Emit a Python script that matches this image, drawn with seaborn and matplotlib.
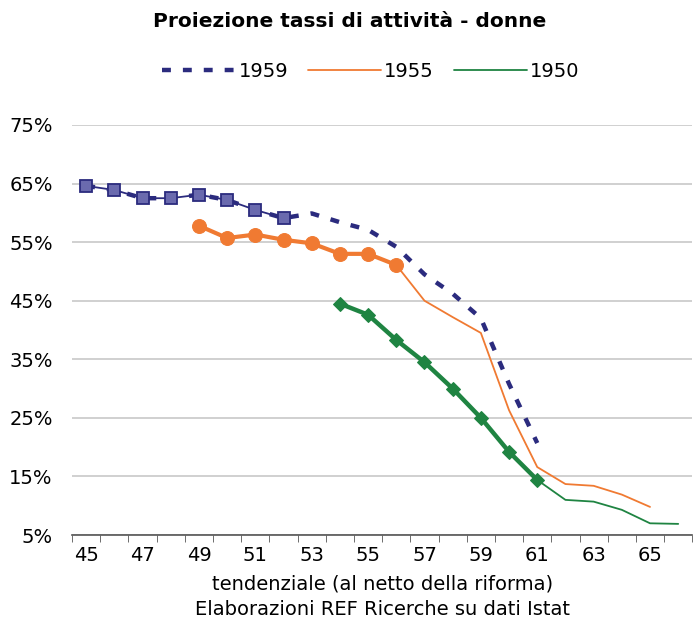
import numpy as np
import matplotlib
matplotlib.use("Agg")
import matplotlib.pyplot as plt
import seaborn as sns
import pandas as pd

# data (age, activity rate %)
ages_1959 = list(range(45, 62))
proj_1959 = [64.6, 63.9, 62.5, 62.5, 63.1, 62.2, 60.5, 59.1, 59.9, 58.4,
             57.1, 54.2, 49.5, 46.2, 42.0, 30.8, 20.7]
obs_ages_1959 = list(range(45, 53))
obs_1959 = proj_1959[:8]

ages_1955 = list(range(56, 66))
proj_1955 = [51.1, 45.0, 42.2, 39.5, 26.3, 16.6, 13.7, 13.4, 11.9, 9.8]
obs_ages_1955 = list(range(49, 57))
obs_1955 = [57.8, 55.7, 56.3, 55.4, 54.8, 53.0, 53.0, 51.1]

ages_1950 = list(range(61, 67))
proj_1950 = [14.4, 11.0, 10.7, 9.3, 7.0, 6.9]
obs_ages_1950 = list(range(54, 62))
obs_1950 = [44.5, 42.6, 38.3, 34.5, 30.0, 25.0, 19.2, 14.4]

navy = "#2b2b7e"
square_face = "#6a6aae"
orange = "#f07a32"
green = "#1f8442"

sns.set_style("white")
plt.rcParams['font.family'] = ['DejaVu Sans']
plt.rcParams['text.color'] = 'black'
plt.rcParams['axes.labelcolor'] = 'black'
plt.rcParams['xtick.color'] = 'black'
plt.rcParams['ytick.color'] = 'black'

fig = plt.figure(figsize=(6.93, 6.24), dpi=100)
ax = fig.add_axes([0.104, 0.1426, 0.895, 0.6571])

# observed (thick / markers)
sns.lineplot(x=obs_ages_1955, y=obs_1955, ax=ax, color=orange, lw=3,
             marker="o", markersize=10, markeredgecolor=orange, zorder=3)
sns.lineplot(x=obs_ages_1950, y=obs_1950, ax=ax, color=green, lw=3.2,
             marker="D", markersize=7, markeredgecolor=green, zorder=3)
sns.lineplot(x=obs_ages_1959, y=obs_1959, ax=ax, color=navy, lw=1.3,
             marker="s", markersize=8, markerfacecolor=square_face,
             markeredgecolor=navy, markeredgewidth=1.3, zorder=4)

# projections (legend series)
sns.lineplot(x=ages_1959, y=proj_1959, ax=ax, color=navy, lw=3.2,
             label="1959", zorder=2)
ax.lines[-1].set_dashes([2.0, 2.7])
sns.lineplot(x=ages_1955, y=proj_1955, ax=ax, color=orange, lw=1.3,
             label="1955", zorder=2)
sns.lineplot(x=ages_1950, y=proj_1950, ax=ax, color=green, lw=1.3,
             label="1950", zorder=2)

fs = 14
ax.set_xlim(44.5, 66.5)
ax.set_ylim(5, 75)
ax.set_yticks(np.arange(5, 76, 10))
ax.set_yticklabels([f"{v}%" for v in range(5, 76, 10)], fontsize=fs)
ax.set_xticks(range(45, 67, 2))
ax.set_xticklabels([str(v) for v in range(45, 67, 2)], fontsize=fs)
ax.set_xticks(np.arange(44.5, 67, 1), minor=True)
ax.tick_params(axis="x", which="major", length=0, pad=8)
ax.tick_params(axis="x", which="minor", length=5, color="#555555",
               direction="out", bottom=True)
ax.tick_params(axis="y", length=0, pad=14)
ax.grid(axis="y", color="#c8c8c8", lw=1.2)
ax.set_axisbelow(True)
for s in ["top", "right", "left"]:
    ax.spines[s].set_visible(False)
ax.spines["bottom"].set_color("#555555")
ax.spines["bottom"].set_linewidth(1.2)

ax.set_xlabel("tendenziale (al netto della riforma)\nElaborazioni REF Ricerche su dati Istat",
              fontsize=fs, labelpad=7, linespacing=1.38)

fig.text(0.505, 0.965, "Proiezione tassi di attività - donne", ha="center",
         va="center", fontsize=14.5, fontweight="bold")

handles, labels = ax.get_legend_handles_labels()
ax.get_legend().remove()
fig.legend(handles, labels, loc="center", bbox_to_anchor=(0.535, 0.885),
           ncol=3, frameon=False, fontsize=fs, handlelength=3.8,
           handletextpad=0.15, columnspacing=1.0)

fig.savefig("out.png", dpi=100)
